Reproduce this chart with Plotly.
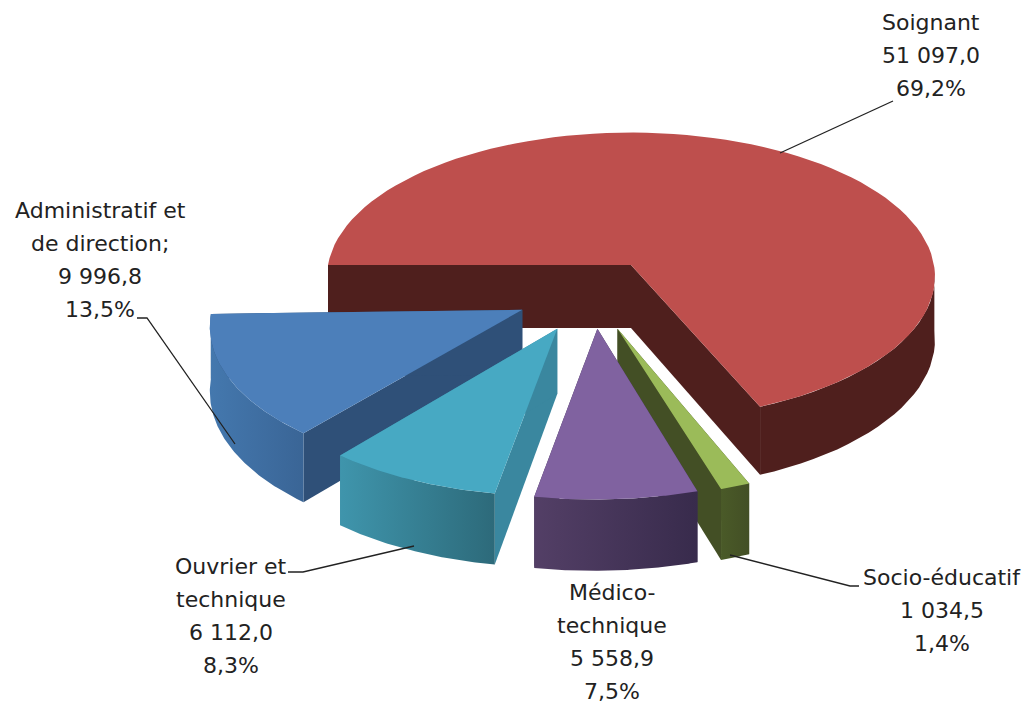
import math
import plotly.graph_objects as go

categories = ["Soignant", "Socio-éducatif", "Médico-technique", "Ouvrier et technique", "Administratif et de direction"]
values = [51097.0, 1034.5, 5558.9, 6112.0, 9996.8]
label_names = [["Soignant"], ["Socio-éducatif"], ["Médico-", "technique"], ["Ouvrier et", "technique"], ["Administratif et", "de direction;"]]
top_colors = ["#BE4F4D", "#9BBB59", "#8062A0", "#47A9C3", "#4C7FBA"]
radial_colors = ["#4F1F1D", "#434F25", "#3D2F52", "#3A879F", "#2F5078"]
arc_colors = [("#4F1F1D", "#4F1F1D"), ("#4A5A28", "#434F25"), ("#533F66", "#382B4C"), ("#3F95AC", "#2D6A7A"), ("#4478AE", "#3A6596")]
explode = [(0, 0), (-0.043, 0.43), (-0.107, 0.43), (-0.235, 0.43), (-0.35, 0.305)]
radius = [1.0, 1.01, 1.02, 1.0, 1.0]
view_shift_start = [0, -2, -1.5, -2, -1.6]
view_shift_end = [-2.5, -2, -1.5, -2, -1.6]
draw_order = [0, 4, 1, 2, 3]

START = 270.0
CX, CY, RX, KY, PERSP, DEPTH = 631, 265, 303, 143, 0.08, 63


def project(u, v, drop=0.0):
    s = 1 / (1 - PERSP * v)
    return CX + RX * u * s, CY + KY * v * s + DEPTH * drop * s


def ground(ex, ey, r, deg):
    a = math.radians(deg)
    return ex + r * math.sin(a), ey - r * math.cos(a)


def add_poly(fig, pts, color=None, grad=None):
    xs = [p[0] for p in pts] + [pts[0][0]]
    ys = [p[1] for p in pts] + [pts[0][1]]
    kw = dict(x=xs, y=ys, mode="lines", line=dict(width=0), fill="toself", hoverinfo="skip", showlegend=False)
    if grad:
        kw["fillgradient"] = dict(type="horizontal", colorscale=[[0, grad[0]], [1, grad[1]]])
    else:
        kw["fillcolor"] = color
    fig.add_trace(go.Scatter(**kw))


def longest_front_run(arc, ey):
    best, run = [], []
    for p in arc:
        if p[1] - ey >= -0.02:
            run.append(p)
            if len(run) > len(best):
                best = run
        else:
            run = []
    return best


fig = go.Figure()
total = sum(values)
angles = []
a = START
for i, val in enumerate(values):
    b = a + val / total * 360
    angles.append((a + view_shift_start[i], b + view_shift_end[i]))
    a = b

for i in draw_order:
    a0, a1 = angles[i]
    ex, ey = explode[i]
    r = radius[i]
    n = 90
    arc = [ground(ex, ey, r, a0 + (a1 - a0) * k / n) for k in range(n + 1)]
    apex = (ex, ey)
    for end in (arc[0], arc[-1]):
        add_poly(fig, [project(*apex), project(*end), project(*end, 1), project(*apex, 1)], radial_colors[i])
    front = longest_front_run(arc, ey)
    if front:
        pts = [project(*p) for p in front] + [project(*p, 1) for p in reversed(front)]
        same = arc_colors[i][0] == arc_colors[i][1]
        add_poly(fig, pts, arc_colors[i][0] if same else None, None if same else arc_colors[i])
    add_poly(fig, [project(*apex)] + [project(*p) for p in arc], top_colors[i])

leaders = [
    [(893, 101), (780, 153)],
    [(137, 318), (147, 318), (235, 444)],
    [(288, 572), (303, 572), (414, 546)],
    [(730, 555), (850, 586), (859, 586)],
]
for line in leaders:
    fig.add_trace(go.Scatter(x=[p[0] for p in line], y=[p[1] for p in line], mode="lines",
                             line=dict(color="#222222", width=1.3), hoverinfo="skip", showlegend=False))


def number(v):
    return f"{v:,.1f}".replace(",", " ").replace(".", ",")


def label_lines(i):
    pct = f"{values[i] / total * 100:.1f}".replace(".", ",")
    return label_names[i] + [number(values[i]), f"{pct}%"]


label_centre_x = [931, 942, 612, 231, 100]
label_first_y = [22, 577, 592, 566, 210]
LINE_GAP = 33.3
for i in range(len(values)):
    for k, txt in enumerate(label_lines(i)):
        fig.add_annotation(x=label_centre_x[i], y=label_first_y[i] + k * LINE_GAP, text=txt, showarrow=False,
                           xanchor="center", yanchor="middle", align="center",
                           font=dict(family="DejaVu Sans", size=22, color="#222222"))

fig.update_layout(
    width=1025, height=706, margin=dict(l=0, r=0, t=0, b=0),
    paper_bgcolor="white", plot_bgcolor="white",
    xaxis=dict(range=[0, 1025], visible=False, fixedrange=True),
    yaxis=dict(range=[706, 0], visible=False, fixedrange=True),
)
fig.write_html(
    "out.html",
    config={"displayModeBar": False},
    default_width="1025px",
    default_height="706px",
    post_script="document.body.style.margin='0';document.documentElement.style.overflow='hidden';",
)
